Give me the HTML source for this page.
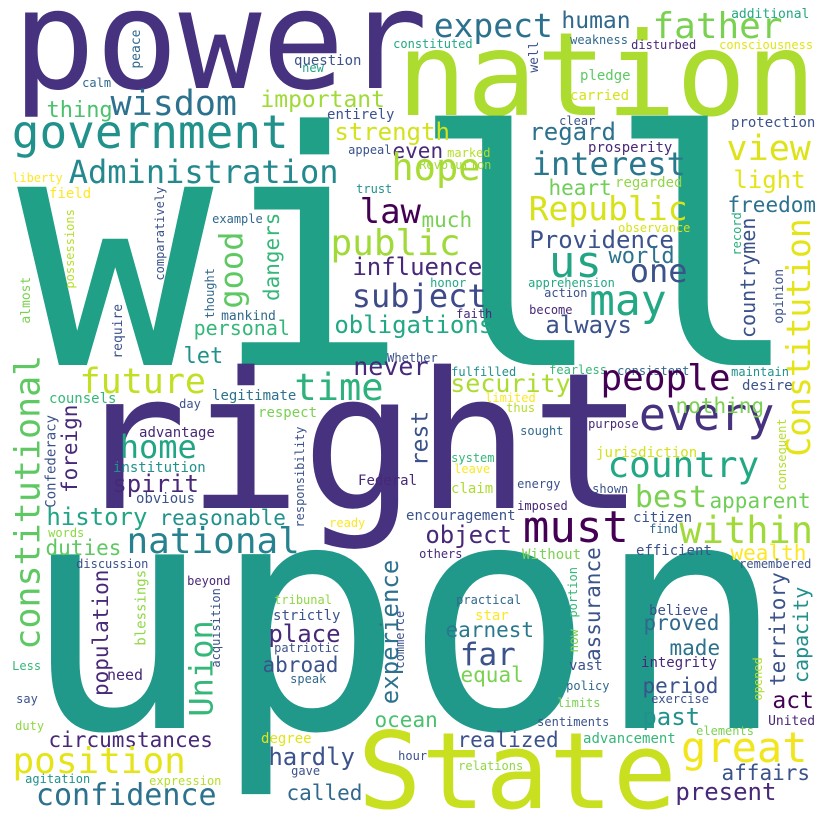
<!DOCTYPE html>
<html><head><meta charset="utf-8"><style>
html,body{margin:0;padding:0;background:#fff;}
svg{display:block;}
text{font-family:"DejaVu Sans Mono","Liberation Mono",monospace;}
</style></head><body>
<svg id="cloud" width="819" height="819" viewBox="0 0 819 819" xmlns="http://www.w3.org/2000/svg">
<rect width="819" height="819" fill="#ffffff"/>
</svg>
<script>
// word frequencies rendered as font size, and word colours
const entries = [
["power",138,"#46327e"],["nation",116,"#addc30"],["will",326,"#20a087"],["right",190,"#46327e"],["upon",318,"#20998b"],["State",106,"#c8e020"],
["government",46,"#21918c"],["Administration",32,"#23898e"],["expect",33,"#2c728e"],["human",23,"#31688e"],["father",36,"#7ad151"],["additional",13,"#22a884"],
["constituted",12,"#22a884"],["weakness",12,"#31688e"],["disturbed",12,"#482878"],["consciousness",12,"#e2e418"],["well",13,"#3b528b"],["peace",13,"#31688e"],
["question",14,"#3b528b"],["new",12,"#21a585"],["calm",12,"#31688e"],["pledge",14,"#5ec962"],["carried",14,"#d5e21a"],["wisdom",35,"#2c728e"],["thing",22,"#4ac16d"],
["important",23,"#a0da39"],["entirely",14,"#3b528b"],["strength",24,"#d2e21b"],["appeal",12,"#3b528b"],["even",21,"#482878"],["marked",12,"#b5de2b"],["Revolution",12,"#a0da39"],
["hope",37,"#a8db34"],["clear",12,"#3b528b"],["regard",24,"#2c728e"],["prosperity",14,"#482878"],["interest",32,"#2a788e"],["protection",14,"#3b528b"],["view",35,"#dde318"],
["light",24,"#e4e419"],["heart",21,"#6ece58"],["regarded",14,"#8fd744"],["liberty",12,"#fde725"],["field",14,"#fde725"],["trust",12,"#21918c"],["comparatively",12,"#3b528b"],
["possessions",12,"#b5de2b"],["example",12,"#31688e"],["dangers",21,"#35b779"],["good",32,"#5ec962"],["law",34,"#440154"],["much",21,"#77d153"],["public",36,"#a0da39"],
["Republic",33,"#d8e219"],["freedom",21,"#2c728e"],["observance",12,"#d5e21a"],["Providence",24,"#3b528b"],["record",12,"#29af7f"],["countrymen",20,"#3b528b"],
["Constitution",33,"#e5e419"],["us",44,"#21a585"],["world",22,"#2c728e"],["one",32,"#3b528b"],["influence",24,"#482878"],["subject",32,"#3e4a89"],["may",43,"#22a884"],
["opinion",13,"#3b528b"],["honor",12,"#22a884"],["apprehension",12,"#22a884"],["action",12,"#3b528b"],["become",12,"#482878"],["faith",12,"#482878"],["thought",12,"#31688e"],
["almost",13,"#7ad151"],["require",13,"#3b528b"],["mankind",13,"#31688e"],["personal",20,"#35b779"],["obligations",24,"#22a884"],["always",24,"#3b528b"],["let",22,"#21918c"],
["Whether",12,"#3b528b"],["never",25,"#482878"],["fulfilled",12,"#21918c"],["fearless",12,"#35b779"],["consistent",12,"#31688e"],["maintain",12,"#21918c"],["desire",14,"#3b528b"],
["future",35,"#c2df23"],["time",37,"#2db27d"],["security",25,"#addc30"],["people",36,"#440154"],["limited",12,"#fde725"],["counsels",14,"#35b779"],["legitimate",14,"#2c728e"],
["day",12,"#3b528b"],["great",42,"#f1e51d"],["every",45,"#46327e"],["nothing",21,"#7ad151"],["thus",12,"#b5de2b"],["respect",14,"#7ad151"],["advantage",14,"#482878"],
["home",32,"#21a585"],["foreign",21,"#482878"],["Confederacy",14,"#3b528b"],["constitutional",35,"#5ec962"],["purpose",12,"#482878"],["sought",12,"#31688e"],["rest",23,"#3b528b"],
["jurisdiction",14,"#d5e21a"],["system",12,"#35b779"],["leave",12,"#fde725"],["Federal",14,"#482878"],["claim",14,"#addc30"],["energy",12,"#3b528b"],["shown",12,"#3b528b"],
["country",36,"#22a884"],["spirit",24,"#482878"],["institution",14,"#21918c"],["obvious",14,"#3b528b"],["responsibility",12,"#3b528b"],["best",30,"#7ad151"],["apparent",21,"#6ece58"],
["imposed",12,"#482878"],["encouragement",14,"#3b528b"],["citizen",14,"#3b528b"],["history",24,"#21a585"],["reasonable",21,"#21918c"],["ready",12,"#fde725"],["must",44,"#440154"],
["find",12,"#31688e"],["within",37,"#a0da39"],["words",12,"#8fd744"],["duties",21,"#5ec962"],["national",36,"#26828e"],["object",24,"#482878"],["others",12,"#482878"],
["Without",14,"#7ad151"],["efficient",14,"#3b528b"],["wealth",21,"#fde725"],["remembered",12,"#3b528b"],["discussion",12,"#3b528b"],["population",21,"#482878"],
["blessings",14,"#8fd744"],["beyond",12,"#482878"],["acquisition",12,"#3b528b"],["Union",32,"#35b779"],["experience",24,"#2c728e"],["commerce",12,"#3b528b"],
["tribunal",12,"#8fd744"],["strictly",14,"#3b528b"],["place",24,"#482878"],["patriotic",12,"#3b528b"],["abroad",21,"#3b528b"],["speak",12,"#31688e"],["need",15,"#482878"],
["Less",12,"#35b779"],["say",12,"#3b528b"],["duty",12,"#8fd744"],["practical",12,"#31688e"],["star",14,"#fde725"],["earnest",21,"#2a788e"],["far",31,"#3b528b"],
["equal",21,"#7ad151"],["now",13,"#7ad151"],["portion",12,"#35b779"],["assurance",21,"#3b528b"],["vast",14,"#3b528b"],["policy",12,"#31688e"],["limits",12,"#7ad151"],
["sentiments",12,"#3b528b"],["believe",14,"#3b528b"],["proved",21,"#31688e"],["made",21,"#2c728e"],["integrity",14,"#482878"],["period",21,"#3b528b"],["exercise",12,"#3b528b"],
["past",24,"#21918c"],["territory",21,"#3b528b"],["capacity",20,"#21918c"],["opened",12,"#b5de2b"],["consequent",12,"#b5de2b"],["act",23,"#440154"],["United",13,"#482878"],
["elements",12,"#7ad151"],["advancement",14,"#35b779"],["ocean",21,"#4ac16d"],["circumstances",21,"#482878"],["degree",14,"#e2e418"],["realized",21,"#3b528b"],
["hardly",24,"#3b528b"],["hour",12,"#3b528b"],["relations",12,"#8fd744"],["gave",12,"#3b528b"],["position",36,"#e5e419"],["agitation",12,"#21918c"],["expression",12,"#b5de2b"],
["confidence",30,"#2c728e"],["called",21,"#31688e"],["affairs",21,"#3b528b"],["present",24,"#482878"]
];
const vertical = ["constitutional","Constitution","well","peace","comparatively","possessions","dangers","good","record","countrymen","opinion","thought","almost","require","foreign","Confederacy","rest","responsibility","population","blessings","acquisition","Union","experience","commerce","now","portion","assurance","territory","capacity","opened","consequent"];
// layout (pixel placement), separate from data
const layout = {
power:[22,88],nation:[405,115],will:[40,365],right:[86,508],upon:[43,728],State:[365,808],
government:[15,148],Administration:[71,183],expect:[436,37],human:[563,28],father:[655,38],additional:[732,18],constituted:[394,48],weakness:[571,44],disturbed:[632,49],consciousness:[720,49],
well:[528,72],peace:[130,68],question:[295,65],"new":[303,72],calm:[83,87],pledge:[581,80],carried:[571,100],wisdom:[113,115],thing:[48,117],important:[262,107],entirely:[328,119],strength:[336,140],appeal:[349,154],even:[394,158],marked:[448,157],Revolution:[420,169],hope:[394,180],clear:[560,125],regard:[531,140],prosperity:[589,152],interest:[534,175],protection:[732,127],view:[729,160],light:[735,188],heart:[550,195],regarded:[616,187],liberty:[13,182],field:[50,198],trust:[357,193],
comparatively:[155,280],possessions:[65,288],example:[213,223],dangers:[263,300],good:[218,307],law:[362,223],much:[423,227],public:[333,255],Republic:[531,220],freedom:[729,212],observance:[619,232],Providence:[531,248],record:[732,255],countrymen:[740,337],Constitution:[785,455],us:[552,277],world:[610,263],one:[632,282],influence:[354,275],subject:[354,307],may:[592,315],opinion:[773,323],honor:[431,287],apprehension:[529,287],action:[545,297],become:[530,314],faith:[457,318],thought:[205,318],almost:[20,323],require:[112,358],mankind:[222,320],personal:[195,335],obligations:[336,333],always:[547,333],"let":[185,363],Whether:[388,362],never:[355,375],fulfilled:[452,376],fearless:[550,374],consistent:[618,375],maintain:[732,376],desire:[743,390],future:[82,393],time:[297,400],security:[452,392],people:[603,390],limited:[486,402],counsels:[50,403],legitimate:[213,400],day:[180,408],
great:[684,762],every:[642,430],nothing:[677,413],thus:[507,412],respect:[259,417],advantage:[140,437],home:[122,458],foreign:[61,492],Confederacy:[45,507],constitutional:[13,648],purpose:[589,428],sought:[521,435],rest:[410,465],jurisdiction:[597,457],system:[452,462],leave:[455,473],Federal:[359,485],claim:[452,493],energy:[518,488],shown:[593,493],country:[610,477],spirit:[114,492],institution:[114,472],obvious:[137,503],responsibility:[295,527],best:[637,507],apparent:[711,508],imposed:[518,510],encouragement:[407,520],citizen:[634,522],history:[48,525],reasonable:[161,525],ready:[330,527],must:[526,542],find:[650,533],within:[682,543],words:[49,537],duties:[47,555],national:[129,553],object:[427,543],others:[420,558],Without:[523,559],efficient:[637,555],wealth:[732,560],remembered:[740,568],discussion:[77,568],
population:[92,695],blessings:[135,645],beyond:[188,585],acquisition:[211,667],Union:[188,715],experience:[380,703],commerce:[395,668],tribunal:[275,604],strictly:[274,620],place:[270,642],patriotic:[275,652],abroad:[264,672],speak:[291,683],need:[108,680],Less:[13,670],say:[17,703],duty:[16,730],practical:[457,604],star:[476,620],earnest:[447,637],far:[462,665],equal:[462,682],now:[568,652],portion:[568,617],assurance:[584,660],vast:[570,670],policy:[567,690],limits:[558,707],sentiments:[538,726],believe:[650,615],proved:[645,630],made:[671,655],integrity:[642,667],period:[644,693],exercise:[652,703],past:[644,725],territory:[769,685],capacity:[793,682],opened:[753,700],consequent:[777,490],act:[774,708],United:[769,725],elements:[697,735],advancement:[584,743],ocean:[376,727],circumstances:[50,747],degree:[262,743],realized:[459,747],hardly:[270,765],hour:[399,760],relations:[459,770],gave:[292,775],position:[15,773],agitation:[26,783],expression:[150,785],confidence:[38,805],called:[288,800],affairs:[723,780],present:[677,800]
};
const svg = document.getElementById('cloud');
const NS = 'http://www.w3.org/2000/svg';
for (let i = 0; i < entries.length; i++) {
  const w = entries[i][0];
  const s = entries[i][1];
  const p = layout[w];
  if (!p) continue;
  const t = document.createElementNS(NS, 'text');
  t.textContent = w;
  t.setAttribute('font-size', s);
  t.setAttribute('fill', entries[i][2]);
  if (vertical.indexOf(w) >= 0) {
    const bx = p[0] + 0.76 * s;
    const by = p[1] + 0.05 * s;
    t.setAttribute('x', bx);
    t.setAttribute('y', by);
    t.setAttribute('transform', 'rotate(-90 ' + bx + ' ' + by + ')');
  } else {
    t.setAttribute('x', p[0] - 0.07 * s);
    t.setAttribute('y', p[1]);
  }
  
  
  svg.appendChild(t);
}
</script>
</body></html>
